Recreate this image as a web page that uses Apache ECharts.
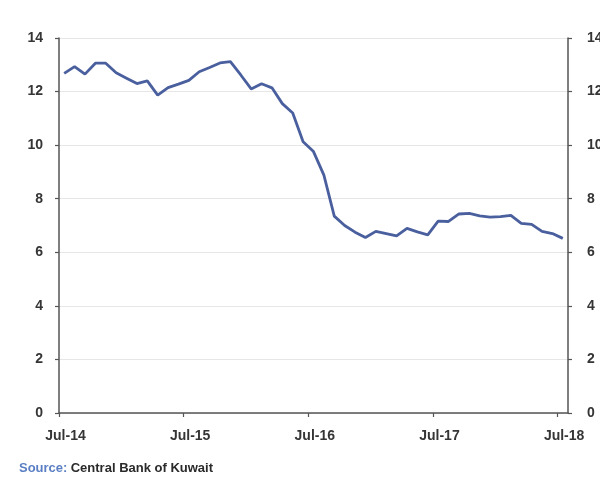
<!DOCTYPE html>
<html>
<head>
<meta charset="utf-8">
<script src="https://cdn.jsdelivr.net/npm/echarts@6/dist/echarts.min.js"></script>
<style>html,body{margin:0;padding:0;background:#fff}#c{width:600px;height:487px}</style>
</head>
<body>
<div id="c"></div>
<script>
// Monthly observations Jul-14 .. Jul-18 (index 0 = Jul-14), plotted at mid-month
const values = [
  12.68, 12.93, 12.65, 13.06, 13.06, 12.70, 12.50, 12.30, 12.40, 11.87,
  12.15, 12.28, 12.42, 12.74, 12.90, 13.07, 13.12, 12.62, 12.10, 12.29,
  12.14, 11.55, 11.20, 10.13, 9.76, 8.88, 7.35, 7.00, 6.75, 6.55,
  6.78, 6.70, 6.61, 6.89, 6.76, 6.65, 7.16, 7.15, 7.43, 7.45,
  7.36, 7.31, 7.33, 7.38, 7.08, 7.04, 6.78, 6.70, 6.52
];
const xTickLabels = ['Jul-14', 'Jul-15', 'Jul-16', 'Jul-17', 'Jul-18'];
const yTicks = [0, 2, 4, 6, 8, 10, 12, 14];
const sourceLabel = 'Source:';
const sourceText = 'Central Bank of Kuwait';

const monthsPerTick = 12;
const xMax = values.length;            // axis runs to start of Aug-18
const seriesData = values.map((v, i) => [i + 0.5, v]);

const chart = echarts.init(document.getElementById('c'));
const labelStyle = {color:'#353535', fontFamily:'Liberation Sans', fontWeight:'bold', fontSize:14};
const yAxisBase = {
  type:'value', min:yTicks[0], max:yTicks[yTicks.length-1], interval:2,
  axisLine:{show:true, lineStyle:{color:'#555', width:1.5}},
  axisTick:{show:true, length:4, lineStyle:{color:'#555', width:1.2}},
  splitLine:{show:true, lineStyle:{color:'#e6e6e6', width:1}},
};
chart.setOption({
  animation:false,
  grid:{left:59, right:32, top:38, bottom:74, containLabel:false, outerBoundsMode:'none'},
  xAxis:{
    type:'value', min:0, max:xMax, interval:monthsPerTick,
    axisLine:{show:true, lineStyle:{color:'#555', width:1.5}},
    axisTick:{show:true, length:4, lineStyle:{color:'#555', width:1.2}},
    axisLabel:Object.assign({
      margin:16, padding:[0,0,0,13], showMaxLabel:false,
      formatter:function(v){ return v % monthsPerTick === 0 ? (xTickLabels[v / monthsPerTick] || '') : ''; }
    }, labelStyle),
    splitLine:{show:false}
  },
  yAxis:[
    Object.assign({}, yAxisBase, {position:'left', axisLabel:Object.assign({margin:16}, labelStyle)}),
    Object.assign({}, yAxisBase, {position:'right', splitLine:{show:false}, axisLabel:Object.assign({margin:19}, labelStyle)})
  ],
  series:[{
    type:'line', data:seriesData, yAxisIndex:0, showSymbol:false,
    lineStyle:{color:'#4a5f9e', width:2.8}, smooth:false
  }],
  graphic:[{
    type:'text', left:19, top:462,
    style:{
      text:'{a|'+sourceLabel+'} {b|'+sourceText+'}',
      rich:{
        a:{fill:'#5b7fc4', fontFamily:'Liberation Sans', fontWeight:'bold', fontSize:13},
        b:{fill:'#2a2a2a', fontFamily:'Liberation Sans', fontWeight:'bold', fontSize:13}
      }
    }
  }]
});
</script>
</body>
</html>
